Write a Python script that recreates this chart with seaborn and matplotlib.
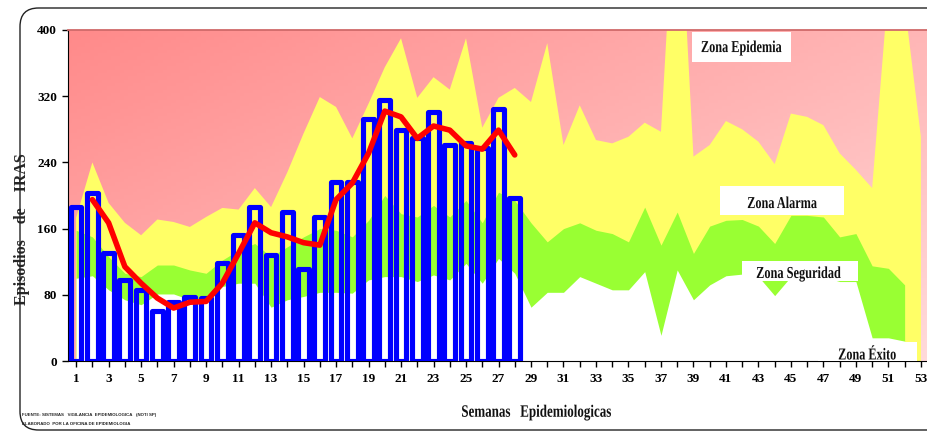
import numpy as np
import pandas as pd
import seaborn as sns
import matplotlib.pyplot as plt
from matplotlib.colors import LinearSegmentedColormap
from matplotlib.patches import Rectangle, FancyBboxPatch, PathPatch
from matplotlib.textpath import TextPath
from matplotlib.font_manager import FontProperties
from matplotlib.transforms import Affine2D, ScaledTranslation

# ==========================
# Datos
# ==========================
semanas = list(range(1, 54))

# episodios de IRAS por semana (semanas 1-28)
casos = [186, 203, 130, 98, 86, 60, 71, 77, 76, 118, 152, 186, 128, 180,
         111, 174, 216, 216, 292, 315, 279, 269, 301, 261, 263, 257, 304, 197]

# promedio movil (semanas 2-28)
promedio = [195, 167, 114, 94, 76, 64, 71, 72, 94, 130, 167, 155, 150, 143,
            140, 195, 215, 251, 302, 295, 269, 284, 279, 260, 256, 279, 249]

# limites superiores de cada zona del canal endemico
zona_exito = [100, 103, 86, 74, 68, 81, 81, 74, 70, 90, 94, 94, 65, 74, 78,
              83, 83, 82, 98, 102, 102, 96, 104, 98, 118, 94, 124, 106, 65,
              83, 83, 102, 94, 86, 86, 108, 31, 110, 74, 92, 103, 105, 102,
              79, 102, 102, 102, 96, 96, 28, 28, 24]
zona_seguridad = [158, 150, 126, 106, 102, 116, 116, 110, 106, 122, 134, 142,
                  126, 138, 150, 160, 158, 150, 170, 200, 178, 174, 188, 174,
                  194, 167, 204, 194, 167, 144, 160, 167, 158, 154, 144, 186,
                  140, 180, 130, 163, 170, 171, 163, 142, 176, 176, 174, 150,
                  154, 115, 112, 92]
zona_alarma = [173, 240, 191, 167, 152, 171, 168, 162, 174, 185, 183, 209,
               186, 228, 275, 319, 307, 269, 311, 355, 390, 318, 343, 328,
               390, 282, 318, 330, 313, 384, 261, 309, 267, 263, 271, 288,
               277, 620, 247, 261, 290, 280, 265, 238, 299, 295, 285, 251,
               231, 209, 451, 432, 271]

etiquetas_zona = ['Zona Epidemia', 'Zona Alarma', 'Zona Seguridad', 'Zona Éxito']

# ==========================
# Estilo
# ==========================
sns.set_style("ticks")
plt.rcParams['font.family'] = ['Liberation Serif', 'DejaVu Serif']

fig = plt.figure(figsize=(9.28, 4.33), dpi=100)
ax = fig.add_axes([68 / 928, 72 / 433, 861 / 928, 331 / 433])

fp_bold = FontProperties(family='Liberation Serif', weight='bold')


def texto_estrecho(x, y, s, size, ancho_px, transform, rotation=0, zorder=8):
    # texto condensado: se escala en horizontal hasta el ancho pedido
    tp = TextPath((0, 0), s, size=size, prop=fp_bold)
    bb = tp.get_extents()
    escala = fig.dpi / 72.0
    squeeze = ancho_px / (bb.width * escala)
    tr = (Affine2D().translate(-(bb.x0 + bb.x1) / 2, -0.33 * size)
          .scale(squeeze * escala, escala).rotate_deg(rotation)
          + ScaledTranslation(x, y, transform))
    patch = PathPatch(tp, transform=tr, facecolor='#111111', edgecolor='none',
                      zorder=zorder, clip_on=False)
    fig.add_artist(patch)


# fondo rosado con degradado (zona epidemia)
gx, gy = np.meshgrid(np.linspace(0, 1, 200), np.linspace(0, 1, 100))
grad = 0.55 * gx + 0.45 * gy
rosa = LinearSegmentedColormap.from_list('rosa', ['#ff8a8a', '#ffb2b2', '#ffdada'])
ax.imshow(grad, extent=[0.5, 53.5, 0, 400], aspect='auto', cmap=rosa,
          origin='upper', zorder=0)

# zonas del canal endemico
ax.fill_between(semanas, 0, zona_alarma, color='#ffff66', lw=0, zorder=0.2)
ax.fill_between(semanas[:52], 0, zona_seguridad, color='#99ff33', lw=0, zorder=0.3)
ax.fill_between(semanas[:52], 0, zona_exito, color='white', lw=0, zorder=0.4)

# barras de casos
df_casos = pd.DataFrame({'semana': semanas[:len(casos)], 'casos': casos})
sns.barplot(data=df_casos, x='semana', y='casos', native_scale=True, width=0.66,
            fill=False, color='#0000ff', linewidth=3.7, errorbar=None, ax=ax, zorder=4)
for p in ax.patches:
    p.set_facecolor('none')
    p.set_edgecolor('#0000ff')
    p.set_linewidth(3.7)
    p.set_joinstyle('round')

# promedio
df_prom = pd.DataFrame({'semana': semanas[1:1 + len(promedio)], 'promedio': promedio})
sns.lineplot(data=df_prom, x='semana', y='promedio', color='#ff0000', linewidth=4,
             ax=ax, zorder=5, solid_capstyle='round', solid_joinstyle='round')

# ejes
ax.set_xlim(0.5, 53.5)
ax.set_ylim(0, 400)
ax.set_xticks(semanas)
ax.set_xticklabels([str(s) if s % 2 else '' for s in semanas])
ax.set_yticks(range(0, 401, 80))
ax.tick_params(axis='both', direction='out', length=4, width=1, colors='black',
               labelsize=9.5, bottom=True, left=True)
ax.tick_params(axis='x', pad=5)
ax.tick_params(axis='y', pad=4)
for t in ax.get_xticklabels() + ax.get_yticklabels():
    t.set_fontweight('bold')
ax.set_xlabel('')
ax.set_ylabel('')
ax.spines['right'].set_visible(False)
ax.spines['top'].set_color('#d06a6a')
ax.spines['top'].set_linewidth(1.3)
ax.spines['left'].set_color('black')
ax.spines['bottom'].set_color('black')

# cajas de las zonas
cajas = [(38.9, 361, 6.1, 37), (40.62, 176.4, 7.63, 35.1),
         (41.96, 97.0, 7.17, 24.2), (46.65, 0, 6.1, 23.3)]
centros = [(41.96, 380), (44.47, 191.5), (45.48, 107), (49.7, 8.5)]
anchos = [80, 69, 84, 57]
for (x0, y0, w, h), (cx, cy), etiqueta, ancho in zip(cajas, centros, etiquetas_zona, anchos):
    ax.add_patch(Rectangle((x0, y0), w, h, facecolor='white', edgecolor='none',
                           zorder=6, clip_on=False))
    texto_estrecho(cx, cy, etiqueta, 12, ancho, ax.transData)

# titulos de ejes
texto_estrecho(536.5 / 928, 1 - 411 / 433, 'Semanas   Epidemiologicas', 12.5, 149,
               fig.transFigure)
fig.text(22 / 928, 1 - 229 / 433, 'Episodios    de    IRAS', rotation=90,
         ha='center', va='center', fontsize=11.5, fontweight='bold',
         family='Liberation Serif')

# fuente
fig.text(22 / 928, 1 - 415 / 433, 'FUENTE: SISTEMAS   VIGILANCIA  EPIDEMIOLOGICA   (NOTI SP)',
         fontsize=3.2, family='Liberation Sans', fontweight='bold', va='center')
fig.text(22 / 928, 1 - 424 / 433, 'ELABORADO  POR LA OFICINA DE EPIDEMIOLOGIA',
         fontsize=3.2, family='Liberation Sans', fontweight='bold', va='center')

# marco redondeado
marco = FancyBboxPatch((20 / 928, 3 / 433), 1.2, 1 - 8 / 433 - 3 / 433,
                       boxstyle='round,pad=0,rounding_size=0.02',
                       mutation_aspect=928 / 433, transform=fig.transFigure,
                       facecolor='none', edgecolor='#222222', linewidth=1.0,
                       zorder=10, clip_on=False)
fig.add_artist(marco)

plt.savefig('out.png', dpi=100)
